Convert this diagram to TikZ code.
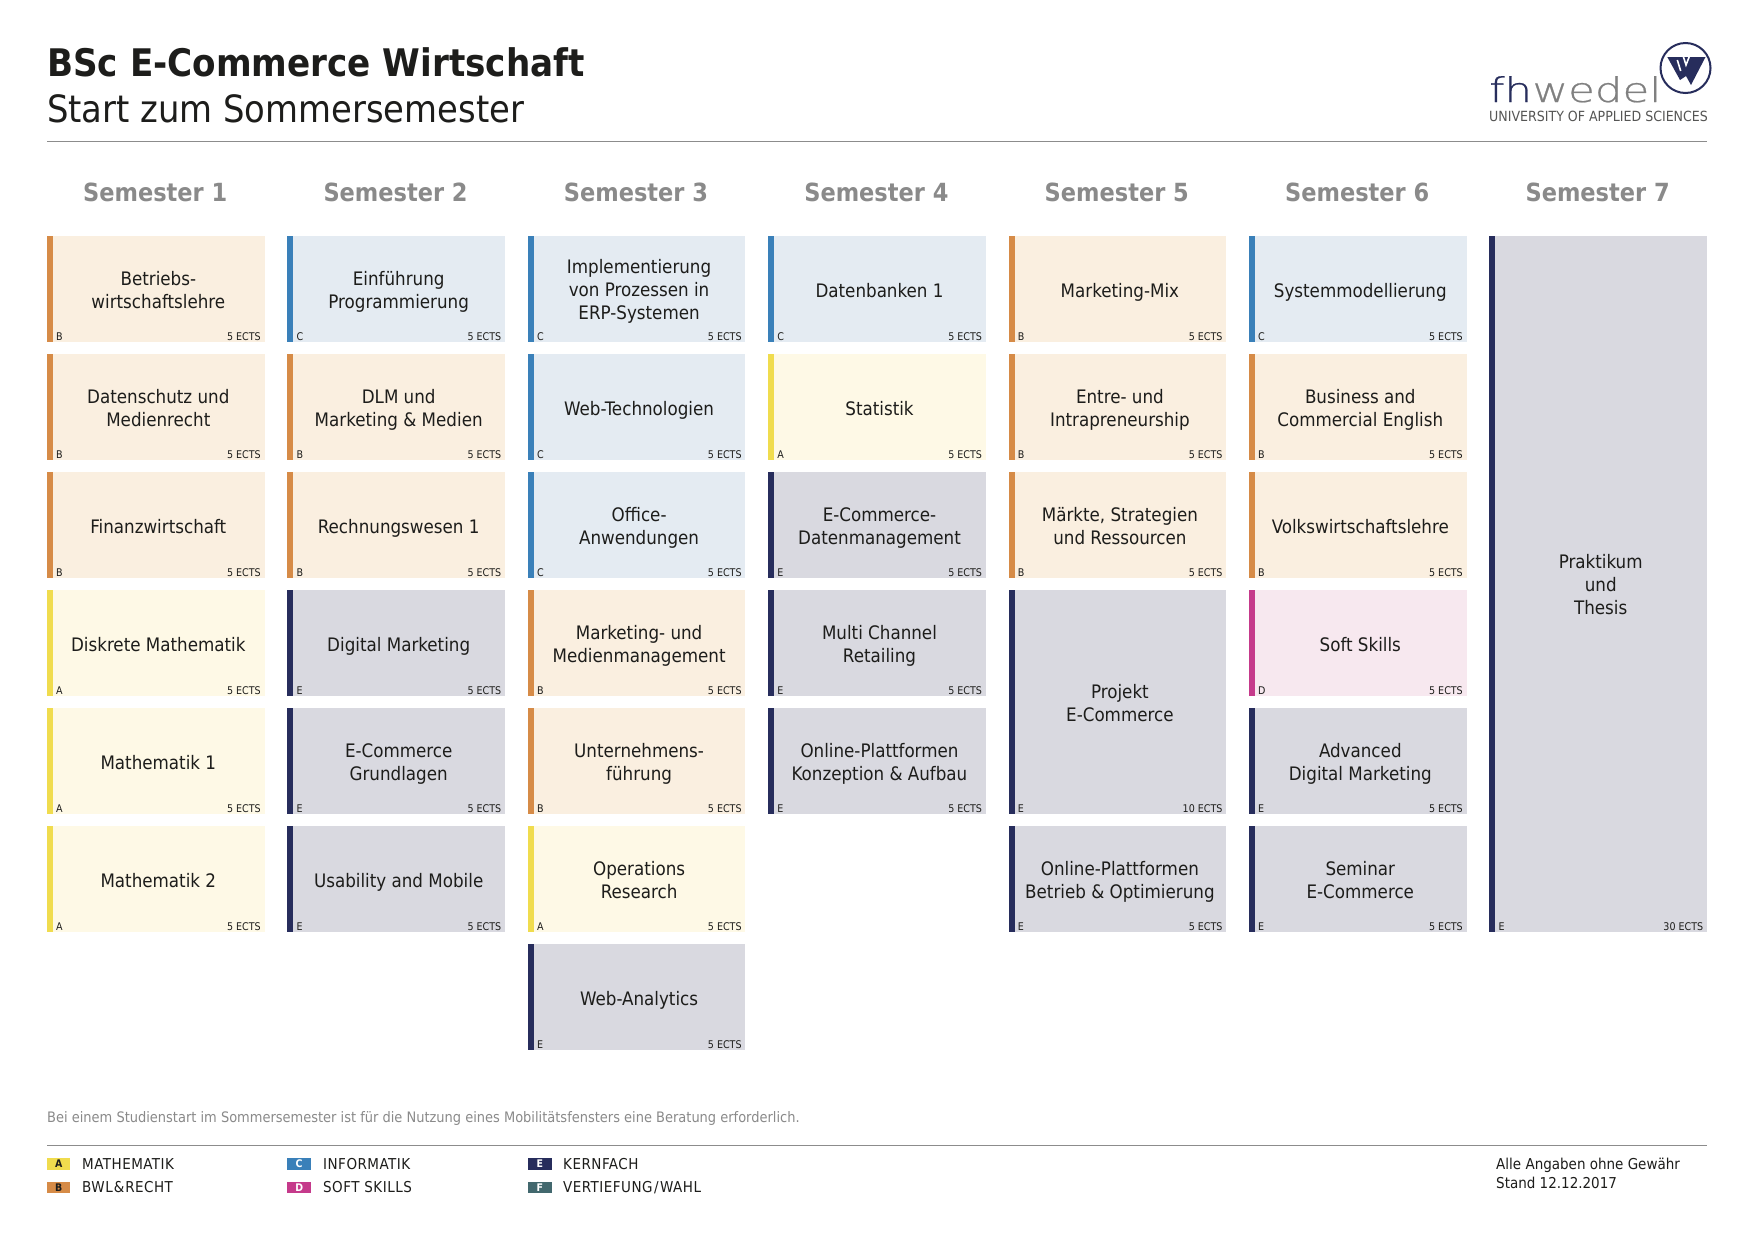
\documentclass[tikz,border=0pt]{standalone}
\usepackage{fontspec}
\setmainfont{DejaVu Sans Condensed}
\newfontfamily\logofont[FakeBold=0.6]{DejaVu Sans ExtraLight}
\definecolor{catA}{HTML}{F0DC4E}\definecolor{fillA}{HTML}{FEF9E6}
\definecolor{catB}{HTML}{D68B47}\definecolor{fillB}{HTML}{FAEFE0}
\definecolor{catC}{HTML}{3A80B9}\definecolor{fillC}{HTML}{E4EBF2}
\definecolor{catD}{HTML}{C53A8B}\definecolor{fillD}{HTML}{F7E8EF}
\definecolor{catE}{HTML}{272D5C}\definecolor{fillE}{HTML}{D9D9E0}
\definecolor{catF}{HTML}{42686E}
\definecolor{ink}{HTML}{1D1D1B}
\definecolor{semgray}{HTML}{8A8A8A}
\definecolor{rulegray}{HTML}{8C8C8C}
\definecolor{notegray}{HTML}{8A8A8A}
\newcommand{\fsz}[2]{\fontsize{#1pt}{#2pt}\selectfont}
\tikzset{
  x=1pt,y=-1pt,
  modtext/.style={text=ink,align=center,inner sep=0pt,font=\fsz{18.6}{23},execute at begin node=\strut,execute at end node=\strut},
  small/.style={text=ink,inner sep=0pt,font=\fsz{10.6}{12}},
  semhead/.style={text=semgray,inner sep=0pt,anchor=base,font=\fsz{25}{28}\bfseries},
  legtext/.style={text=ink,inner sep=0pt,anchor=base west,font=\fsz{15}{18}\addfontfeatures{LetterSpace=3.3}},
  foottext/.style={text=ink,inner sep=0pt,anchor=base west,font=\fsz{15}{18}},
  legswatch/.style={inner sep=0pt,minimum width=23.5pt,minimum height=11.5pt,font=\fsz{10.5}{10}\bfseries},
  rulebar/.style={rulegray,line width=1pt},
  logoslit/.style={white,line width=1.6pt},
}
% \modul{name}{col 0-6}{row 0-6}{span}{cat}{ects}{text}
\newcommand{\modul}[7]{%
  \pgfmathsetmacro{\xa}{47+240.4*#2}
  \pgfmathsetmacro{\ya}{236+118*#3}
  \pgfmathsetmacro{\yb}{\ya+118*#4-11.7}
  \fill[fill#5] (\xa,\ya) rectangle (\xa+217.5,\yb);
  \fill[cat#5] (\xa,\ya) rectangle (\xa+6,\yb);
  \node[modtext] (#1) at (\xa+111.3,{(\ya+\yb)/2+4.2}) {#7};
  \node[small,anchor=base west] (#1-c) at (\xa+9,\yb-1.7) {#5};
  \node[small,anchor=base east] (#1-e) at (\xa+214,\yb-1.7) {#6 ECTS};
}
\begin{document}
\begin{tikzpicture}
\useasboundingbox (0,0) rectangle (1753,1240);
\fill[white] (0,0) rectangle (1753,1240);
\node[inner sep=0pt,anchor=base west,text=ink,font=\fsz{38}{44}\bfseries] (title) at (47,76) {BSc E-Commerce Wirtschaft};
\node[inner sep=0pt,anchor=base west,text=ink,font=\fsz{37.6}{44}] (subtitle) at (47,122) {Start zum Sommersemester};
% logo
\node[inner sep=0pt,anchor=base west,text=catE] (logo1) at (1489,102) {\logofont\fsz{34}{40}\scalebox{1.28}[1]{fh}};
\node[inner sep=0pt,anchor=base west,text=gray] (logo2) at (logo1.base east) {\logofont\fsz{34}{40}\scalebox{1.28}[1]{wedel}};
\draw[catE,line width=2pt] (1685.5,68) circle (25);
\fill[catE] (1667.3,57) -- (1705.5,57) -- (1691,85) -- (1686,76) -- (1680,80) -- cycle;
\draw[logoslit] (1677.3,60) -- (1680.7,71);
\draw[logoslit] (1683.3,56.5) -- (1686,65) -- (1689.3,56.5);
\node[inner sep=0pt,anchor=base west,text=ink!75,font=\fsz{14}{15}] (logo3) at (1489,121.5) {UNIVERSITY OF APPLIED SCIENCES};
\draw[rulebar] (47,141) -- (1707,141);
% semester heads
\foreach \i in {1,...,7}{
  \pgfmathsetmacro{\xc}{47+240.4*(\i-1)+108.2}
  \node[semhead] (sem\i) at (\xc,201) {Semester \i};
}
% column 1
\modul{a1}{0}{0}{1}{B}{5}{Betriebs-\\wirtschaftslehre}
\modul{a2}{0}{1}{1}{B}{5}{Datenschutz und\\Medienrecht}
\modul{a3}{0}{2}{1}{B}{5}{Finanzwirtschaft}
\modul{a4}{0}{3}{1}{A}{5}{Diskrete Mathematik}
\modul{a5}{0}{4}{1}{A}{5}{Mathematik 1}
\modul{a6}{0}{5}{1}{A}{5}{Mathematik 2}
% column 2
\modul{b1}{1}{0}{1}{C}{5}{Einführung\\Programmierung}
\modul{b2}{1}{1}{1}{B}{5}{DLM und\\Marketing \& Medien}
\modul{b3}{1}{2}{1}{B}{5}{Rechnungswesen 1}
\modul{b4}{1}{3}{1}{E}{5}{Digital Marketing}
\modul{b5}{1}{4}{1}{E}{5}{E-Commerce\\Grundlagen}
\modul{b6}{1}{5}{1}{E}{5}{Usability and Mobile}
% column 3
\modul{c1}{2}{0}{1}{C}{5}{Implementierung\\von Prozessen in\\ERP-Systemen}
\modul{c2}{2}{1}{1}{C}{5}{Web-Technologien}
\modul{c3}{2}{2}{1}{C}{5}{Office-\\Anwendungen}
\modul{c4}{2}{3}{1}{B}{5}{Marketing- und\\Medienmanagement}
\modul{c5}{2}{4}{1}{B}{5}{Unternehmens-\\führung}
\modul{c6}{2}{5}{1}{A}{5}{Operations\\Research}
\modul{c7}{2}{6}{1}{E}{5}{Web-Analytics}
% column 4
\modul{d1}{3}{0}{1}{C}{5}{Datenbanken 1}
\modul{d2}{3}{1}{1}{A}{5}{Statistik}
\modul{d3}{3}{2}{1}{E}{5}{E-Commerce-\\Datenmanagement}
\modul{d4}{3}{3}{1}{E}{5}{Multi Channel\\Retailing}
\modul{d5}{3}{4}{1}{E}{5}{Online-Plattformen\\Konzeption \& Aufbau}
% column 5
\modul{e1}{4}{0}{1}{B}{5}{Marketing-Mix}
\modul{e2}{4}{1}{1}{B}{5}{Entre- und\\Intrapreneurship}
\modul{e3}{4}{2}{1}{B}{5}{Märkte, Strategien\\und Ressourcen}
\modul{e4}{4}{3}{2}{E}{10}{Projekt\\E-Commerce}
\modul{e5}{4}{5}{1}{E}{5}{Online-Plattformen\\Betrieb \& Optimierung}
% column 6
\modul{f1}{5}{0}{1}{C}{5}{Systemmodellierung}
\modul{f2}{5}{1}{1}{B}{5}{Business and\\Commercial English}
\modul{f3}{5}{2}{1}{B}{5}{Volkswirtschaftslehre}
\modul{f4}{5}{3}{1}{D}{5}{Soft Skills}
\modul{f5}{5}{4}{1}{E}{5}{Advanced\\Digital Marketing}
\modul{f6}{5}{5}{1}{E}{5}{Seminar\\E-Commerce}
% column 7
\modul{g1}{6}{0}{6}{E}{30}{Praktikum\\und\\Thesis}
% footer
\node[inner sep=0pt,anchor=base west,text=notegray,font=\fsz{14.45}{17}] (note) at (47,1122) {Bei einem Studienstart im Sommersemester ist für die Nutzung eines Mobilitätsfensters eine Beratung erforderlich.};
\draw[rulebar] (47,1145) -- (1707,1145);
\node[legswatch,fill=catA,text=ink] (la) at (58.7,1164) {A};
\node[legswatch,fill=catB,text=ink] (lb) at (58.7,1187.5) {B};
\node[legswatch,fill=catC,text=white] (lc) at (299.2,1164) {C};
\node[legswatch,fill=catD,text=white] (ld) at (299.2,1187.5) {D};
\node[legswatch,fill=catE,text=white] (le) at (539.8,1164) {E};
\node[legswatch,fill=catF,text=white] (lf) at (539.8,1187.5) {F};
\node[legtext] (ta) at (82,1169) {MATHEMATIK};
\node[legtext] (tb) at (82,1192.5) {BWL\hspace{1pt}\&\hspace{1pt}RECHT};
\node[legtext] (tc) at (323,1169) {INFORMATIK};
\node[legtext] (td) at (323,1192.5) {SOFT SKILLS};
\node[legtext] (te) at (563,1169) {KERNFACH};
\node[legtext] (tf) at (563,1192.5) {VERTIEFUNG\hspace{1.5pt}/\hspace{1.5pt}WAHL};
\node[foottext] (s1) at (1496,1169) {Alle Angaben ohne Gewähr};
\node[foottext] (s2) at (1496,1188) {Stand 12.12.2017};
\end{tikzpicture}
\end{document}
